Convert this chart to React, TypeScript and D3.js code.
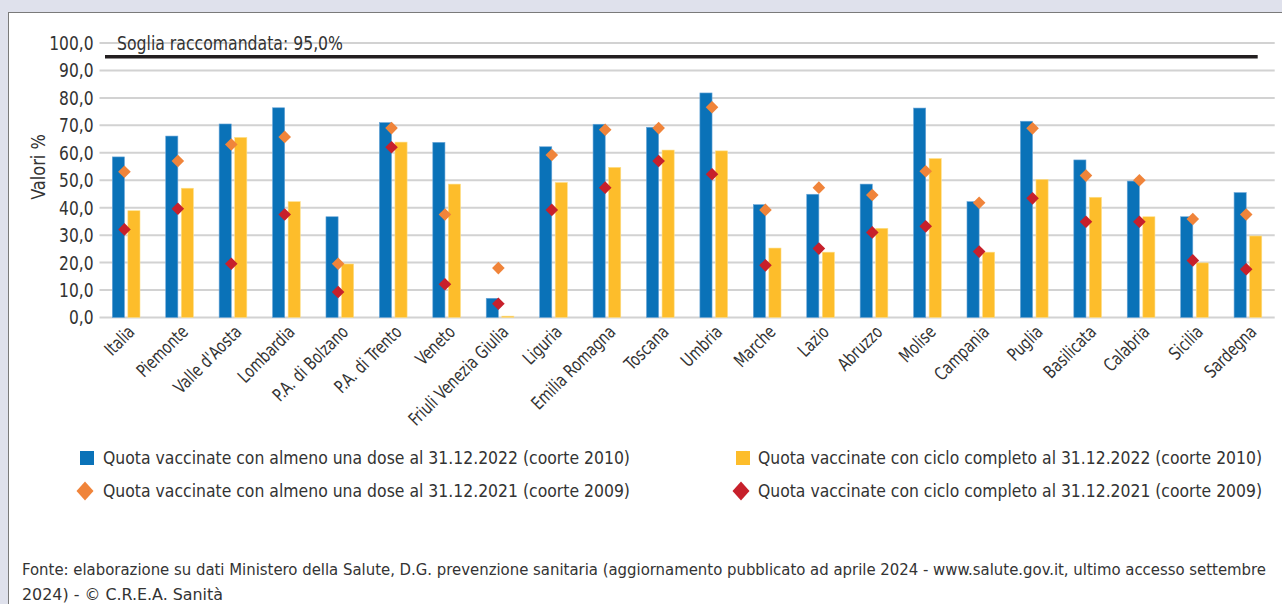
import * as d3 from 'd3';
import { useEffect, useMemo, useRef } from 'react';

const categories = [
  'Italia', 'Piemonte', "Valle d'Aosta", 'Lombardia', 'P.A. di Bolzano', 'P.A. di Trento',
  'Veneto', 'Friuli Venezia Giulia', 'Liguria', 'Emilia Romagna', 'Toscana', 'Umbria',
  'Marche', 'Lazio', 'Abruzzo', 'Molise', 'Campania', 'Puglia', 'Basilicata', 'Calabria',
  'Sicilia', 'Sardegna',
];

// bars (coorte 2010, al 31.12.2022)
const almenoUnaDose2022 = [
  58.5, 66.1, 70.5, 76.4, 36.7, 71.0, 63.8, 7.0, 62.2, 70.4, 69.3, 81.8,
  41.1, 44.9, 48.6, 76.3, 42.2, 71.5, 57.4, 49.7, 36.7, 45.5,
];
const cicloCompleto2022 = [
  38.9, 47.1, 65.6, 42.2, 19.5, 63.9, 48.6, 0.5, 49.2, 54.7, 61.0, 60.7,
  25.3, 23.8, 32.5, 57.9, 23.8, 50.3, 43.8, 36.7, 19.9, 29.7,
];
// diamonds (coorte 2009, al 31.12.2021)
const almenoUnaDose2021 = [
  53.1, 57.0, 63.0, 65.8, 19.6, 69.0, 37.5, 18.0, 59.2, 68.4, 69.0, 76.6,
  39.2, 47.3, 44.6, 53.3, 41.8, 68.9, 51.7, 50.0, 35.9, 37.5,
];
const cicloCompleto2021 = [
  32.1, 39.6, 19.6, 37.5, 9.3, 62.0, 12.1, 5.0, 39.2, 47.3, 57.0, 52.2,
  19.0, 25.1, 31.0, 33.2, 24.0, 43.4, 34.9, 34.9, 20.8, 17.6,
];

const yTicks = [0, 10, 20, 30, 40, 50, 60, 70, 80, 90, 100];
const soglia = 95;

const legendLabels = [
  'Quota vaccinate con almeno una dose al 31.12.2022 (coorte 2010)',
  'Quota vaccinate con ciclo completo al 31.12.2022 (coorte 2010)',
  'Quota vaccinate con almeno una dose al 31.12.2021 (coorte 2009)',
  'Quota vaccinate con ciclo completo al 31.12.2021 (coorte 2009)',
];
const sourceLines = [
  'Fonte: elaborazione su dati Ministero della Salute, D.G. prevenzione sanitaria (aggiornamento pubblicato ad aprile 2024 - www.salute.gov.it, ultimo accesso settembre',
  '2024) - © C.R.E.A. Sanità',
];

const COLORS = { blue: '#0a72b8', yellow: '#fdbd2b', orange: '#f0843a', red: '#c7202b' };

const WIDTH = 1282;
const HEIGHT = 604;
const PLOT = { left: 99.5, right: 1274.7, top: 43, bottom: 317.5 };
const FONT = "'Liberation Sans Narrow', 'DejaVu Sans Condensed', 'Arial Narrow', sans-serif";
const TEXT = '#333333';

const itFormat = d3.formatLocale({
  decimal: ',',
  thousands: '.',
  grouping: [3],
  currency: ['€', ''],
}).format('.1f');

const diamond = (cx: number, cy: number, rx: number, ry: number) =>
  `M${cx},${cy - ry}L${cx + rx},${cy}L${cx},${cy + ry}L${cx - rx},${cy}Z`;

export default function App() {
  const axisRef = useRef<SVGGElement | null>(null);

  const xScale = useMemo(
    () => d3.scaleBand<string>().domain(categories).range([PLOT.left, PLOT.right]),
    []
  );
  const yScale = useMemo(
    () => d3.scaleLinear().domain([0, 100]).range([PLOT.bottom, PLOT.top]),
    []
  );
  // two bars inside each band
  const subScale = useMemo(
    () => d3.scaleBand<string>().domain(['dose', 'ciclo']).range([12.8, 40.5]).paddingInner(0.22),
    []
  );
  const bw = subScale.bandwidth();

  // y axis labels drawn with d3
  useEffect(() => {
    const g = d3.select(axisRef.current);
    g.selectAll('*').remove();
    const axis = d3.axisLeft(yScale).tickValues(yTicks).tickFormat((d) => itFormat(d as number)).tickSize(0).tickPadding(7);
    g.attr('transform', `translate(${PLOT.left},0)`).call(axis);
    g.select('.domain').remove();
    g.selectAll('text')
      .attr('font-family', FONT)
      .attr('font-size', 20)
      .attr('fill', TEXT)
      .attr('transform', 'scale(0.86,1)');
  }, [yScale]);

  const diamondX = (c: string) => (xScale(c) ?? 0) + (subScale('dose') ?? 0) + bw;

  return (
    <svg
      width={WIDTH}
      height={HEIGHT}
      style={{ position: 'absolute', left: 0, top: 0, background: '#dfe1ec' }}
      fontFamily={FONT}
    >
      <rect x={8.5} y={12.5} width={WIDTH} height={HEIGHT} fill="#ffffff" stroke="#7a7a7a" strokeWidth={1} />

      {/* gridlines */}
      {yTicks.map((t) => (
        <line key={t} x1={PLOT.left} x2={PLOT.right} y1={yScale(t)} y2={yScale(t)} stroke="#d2d2d2" strokeWidth={2} />
      ))}

      {/* bars */}
      {categories.map((c, i) => {
        const x0 = xScale(c) ?? 0;
        return (
          <g key={c}>
            <rect
              x={x0 + (subScale('dose') ?? 0)}
              y={yScale(almenoUnaDose2022[i])}
              width={bw}
              height={yScale(0) - yScale(almenoUnaDose2022[i])}
              fill={COLORS.blue}
              stroke="#6aa6d8"
              strokeWidth={0.6}
            />
            <rect
              x={x0 + (subScale('ciclo') ?? 0)}
              y={yScale(cicloCompleto2022[i])}
              width={bw}
              height={yScale(0) - yScale(cicloCompleto2022[i])}
              fill={COLORS.yellow}
              stroke="#fde08a"
              strokeWidth={0.6}
            />
          </g>
        );
      })}

      {/* threshold */}
      <line x1={105} x2={1257.7} y1={yScale(soglia)} y2={yScale(soglia)} stroke="#231f20" strokeWidth={3.5} />
      <text x={117} y={yScale(100) + 7} fontSize={20} fill={TEXT} textLength={226} lengthAdjust="spacingAndGlyphs">
        Soglia raccomandata: 95,0%
      </text>

      {/* diamonds */}
      {categories.map((c, i) => (
        <g key={`d-${c}`}>
          <path d={diamond(diamondX(c), yScale(almenoUnaDose2021[i]), 6.3, 6.3)} fill={COLORS.orange} />
          <path d={diamond(diamondX(c), yScale(cicloCompleto2021[i]), 6.3, 6.3)} fill={COLORS.red} />
        </g>
      ))}

      <g ref={axisRef} />

      <text transform="translate(45,167) rotate(-90) scale(0.9,1)" textAnchor="middle" fontSize={20} fill={TEXT}>
        Valori %
      </text>

      {/* category labels */}
      {categories.map((c) => (
        <text
          key={`l-${c}`}
          transform={`translate(${(xScale(c) ?? 0) + xScale.bandwidth() / 2},${PLOT.bottom + 6}) rotate(-45) scale(0.84,1)`}
          textAnchor="end"
          dy="0.75em"
          fontSize={18}
          fill={TEXT}
        >
          {c}
        </text>
      ))}

      {/* legend */}
      <rect x={80} y={451} width={14} height={14} fill={COLORS.blue} />
      <text x={103} y={464} fontSize={18} fill={TEXT} textLength={527} lengthAdjust="spacingAndGlyphs">{legendLabels[0]}</text>
      <rect x={736} y={451} width={14} height={14} fill={COLORS.yellow} />
      <text x={758} y={464} fontSize={18} fill={TEXT} textLength={504} lengthAdjust="spacingAndGlyphs">{legendLabels[1]}</text>
      <path d={diamond(85, 491, 8.5, 9.5)} fill={COLORS.orange} />
      <text x={103} y={497} fontSize={18} fill={TEXT} textLength={527} lengthAdjust="spacingAndGlyphs">{legendLabels[2]}</text>
      <path d={diamond(741, 491, 8.5, 9.5)} fill={COLORS.red} />
      <text x={758} y={497} fontSize={18} fill={TEXT} textLength={504} lengthAdjust="spacingAndGlyphs">{legendLabels[3]}</text>

      {/* source */}
      <text x={22} y={575} fontSize={16} fill={TEXT} textLength={1244} lengthAdjust="spacingAndGlyphs">
        {sourceLines[0]}
      </text>
      <text x={22} y={600} fontSize={16} fill={TEXT} textLength={201} lengthAdjust="spacingAndGlyphs">
        {sourceLines[1]}
      </text>
    </svg>
  );
}
